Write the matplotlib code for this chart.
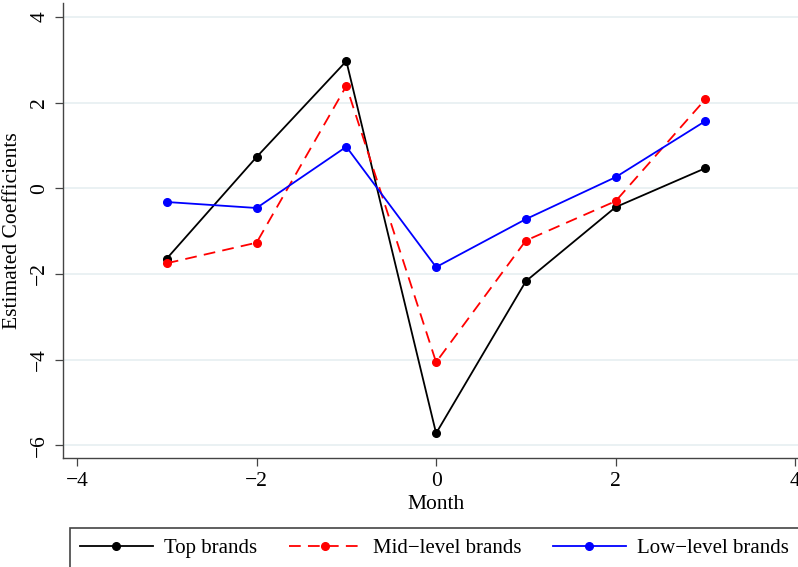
import matplotlib
matplotlib.use("Agg")
import matplotlib.pyplot as plt
import matplotlib.patches as patches

plt.rcParams['font.family'] = ['Liberation Serif', 'DejaVu Serif']
plt.rcParams['axes.unicode_minus'] = True

# event-time months and coefficients per brand tier
months = [-3, -2, -1, 0, 1, 2, 3]
top_brands = [-1.64, 0.73, 2.97, -5.72, -2.17, -0.44, 0.47]
mid_brands = [-1.75, -1.27, 2.39, -4.06, -1.22, -0.30, 2.08]
low_brands = [-0.32, -0.46, 0.97, -1.84, -0.72, 0.26, 1.57]

series_labels = ['Top brands', 'Mid\u2212level brands', 'Low\u2212level brands']
x_ticks = [-4, -2, 0, 2, 4]
y_ticks = [-6, -4, -2, 0, 2, 4]

fs = 15.5

fig = plt.figure(figsize=(7.98, 5.67), dpi=100)
ax = fig.add_axes([0.079, 0.192, 0.935, 0.803])

grid_col = '#e8f0f2'
for yt in y_ticks:
    ax.axhline(yt, color=grid_col, lw=1.3, zorder=0)

ax.plot(months, top_brands, color='black', lw=1.3, marker='o', ms=5.5, label=series_labels[0])
ax.plot(months, mid_brands, color='red', lw=1.3, marker='o', ms=5.5, dashes=(6.5, 4), label=series_labels[1])
ax.plot(months, low_brands, color='blue', lw=1.3, marker='o', ms=5.5, label=series_labels[2])

ax.set_xlim(-4.156, 4.156)
ax.set_ylim(-6.3, 4.33)
ax.set_xticks(x_ticks)
ax.set_yticks(y_ticks)
ax.tick_params(axis='both', labelsize=fs, length=6, width=0.9, color='#444444', pad=4)
for lab in ax.get_yticklabels():
    lab.set_rotation(90)
    lab.set_va('center')

for side in ['top', 'right']:
    ax.spines[side].set_visible(False)
for side in ['left', 'bottom']:
    ax.spines[side].set_color('#444444')
    ax.spines[side].set_linewidth(1.0)

ax.set_xlabel('Month', fontsize=fs, labelpad=3)
ax.set_ylabel('Estimated Coefficients', fontsize=fs, labelpad=6)

# legend underneath, frame running off the edge
frame = patches.Rectangle((70 / 798, -0.05), 0.95, 1 - 528 / 567 + 0.05,
                          transform=fig.transFigure, fill=False,
                          edgecolor='#444444', lw=1.2)
fig.patches.append(frame)
handles, labels = ax.get_legend_handles_labels()
fig.legend(handles, labels, loc='center left', bbox_to_anchor=(0.1, 1 - 548 / 567),
           ncol=3, frameon=False, fontsize=15, handlelength=3.5,
           handletextpad=0.55, columnspacing=1.5, borderpad=0, borderaxespad=0)

fig.savefig('out.png', dpi=100)
